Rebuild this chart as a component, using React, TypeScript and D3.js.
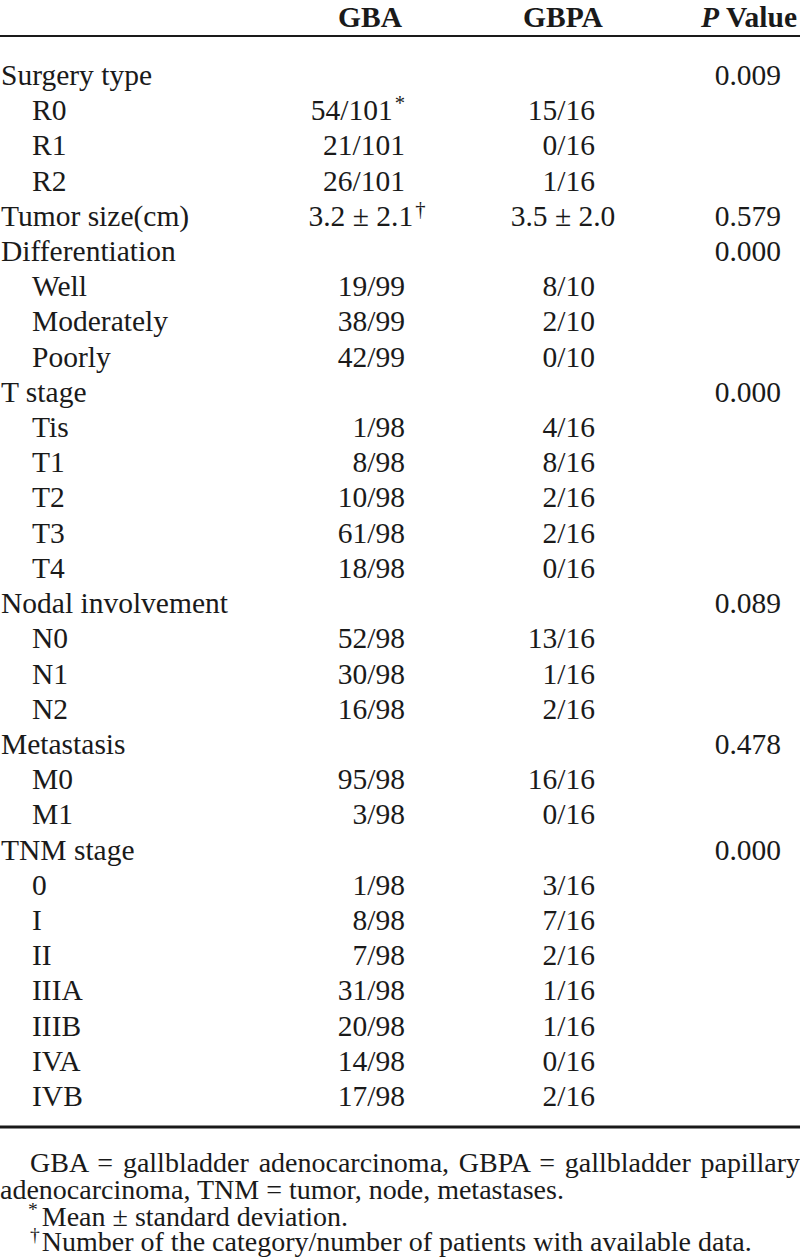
import React, { useEffect, useRef, useState } from 'react';
import * as d3 from 'd3';

const columnHeaders = ['GBA', 'GBPA', 'Value'];
const rowLabels = [
  'Surgery type', 'R0', 'R1', 'R2', 'Tumor size(cm)', 'Differentiation', 'Well', 'Moderately', 'Poorly',
  'T stage', 'Tis', 'T1', 'T2', 'T3', 'T4', 'Nodal involvement', 'N0', 'N1', 'N2', 'Metastasis', 'M0', 'M1',
  'TNM stage', '0', 'I', 'II', 'IIIA', 'IIIB', 'IVA', 'IVB',
];
const rowLevels = [0, 1, 1, 1, 0, 0, 1, 1, 1, 0, 1, 1, 1, 1, 1, 0, 1, 1, 1, 0, 1, 1, 0, 1, 1, 1, 1, 1, 1, 1];
const gbaValues = [
  '', '54/101', '21/101', '26/101', '3.2 ± 2.1', '', '19/99', '38/99', '42/99', '', '1/98', '8/98', '10/98',
  '61/98', '18/98', '', '52/98', '30/98', '16/98', '', '95/98', '3/98', '', '1/98', '8/98', '7/98', '31/98',
  '20/98', '14/98', '17/98',
];
const gbaMarks = ['', '*', '', '', '†', '', '', '', '', '', '', '', '', '', '', '', '', '', '', '', '', '', '', '', '', '', '', '', '', ''];
const gbpaValues = [
  '', '15/16', '0/16', '1/16', '3.5 ± 2.0', '', '8/10', '2/10', '0/10', '', '4/16', '8/16', '2/16', '2/16',
  '0/16', '', '13/16', '1/16', '2/16', '', '16/16', '0/16', '', '3/16', '7/16', '2/16', '1/16', '1/16', '0/16',
  '2/16',
];
const pValues = [
  '0.009', '', '', '', '0.579', '0.000', '', '', '', '0.000', '', '', '', '', '', '0.089', '', '', '', '0.478',
  '', '', '0.000', '', '', '', '', '', '', '',
];
const footnoteLine1 = 'GBA = gallbladder adenocarcinoma, GBPA = gallbladder papillary';
const footnoteLine2 = 'adenocarcinoma, TNM = tumor, node, metastases.';
const footnoteMarks = ['*', '†'];
const footnoteNotes = ['Mean ± standard deviation.', 'Number of the category/number of patients with available data.'];

const FONT = '"Liberation Serif", "Times New Roman", serif';
const FS = 29.5;
const FFS = 28;

export default function App() {
  const W = 800;
  const H = 1260;
  const line1Ref = useRef<SVGTextElement>(null);
  const [ws, setWs] = useState(0);

  const y = d3.scalePoint<number>().domain(d3.range(rowLabels.length)).range([85, 1106]);
  const labelX = d3.scaleOrdinal<number, number>().domain([0, 1]).range([1, 32]);
  const colRight = { gba: 405, gbpa: 595, p: 781 };
  const colCenter = { gba: 367, gbpa: 563 };

  const line1X = 30;
  const line1End = 800;

  useEffect(() => {
    const el = line1Ref.current;
    if (!el) return;
    const spaces = footnoteLine1.split(' ').length - 1;
    const natural = el.getComputedTextLength() - ws * spaces;
    const extra = (line1End - line1X - natural) / spaces;
    if (Math.abs(extra - ws) > 0.1) setWs(extra);
  }, [ws]);

  const cell = (v: string, mark: string, key: 'gba' | 'gbpa', i: number) => {
    if (!v) return null;
    const centered = v.includes('±');
    return (
      <text
        key={key + i}
        x={centered ? colCenter[key] : colRight[key]}
        y={y(i)}
        textAnchor={centered ? 'middle' : 'end'}
      >
        {v}
        {mark ? (
          <tspan fontSize={FS * 0.7} dy={-10} dx={2}>{mark}</tspan>
        ) : null}
      </text>
    );
  };

  return (
    <svg
      width={W}
      height={H}
      style={{ position: 'absolute', left: 0, top: 0, background: '#fff' }}
      fontFamily={FONT}
      fontSize={FS}
      fill="#1a1a1a"
    >
      <rect width={W} height={H} fill="#fff" />
      <g fontWeight="bold">
        <text x={370} y={27} textAnchor="middle">{columnHeaders[0]}</text>
        <text x={colCenter.gbpa} y={27} textAnchor="middle">{columnHeaders[1]}</text>
        <text x={797} y={27} textAnchor="end">
          <tspan fontStyle="italic">P</tspan> {columnHeaders[2]}
        </text>
      </g>
      <line x1={0} x2={W} y1={36} y2={36} stroke="#1a1a1a" strokeWidth={2} />
      {rowLabels.map((lab, i) => (
        <text key={'l' + i} x={labelX(rowLevels[i])} y={y(i)}>{lab}</text>
      ))}
      {gbaValues.map((v, i) => cell(v, gbaMarks[i], 'gba', i))}
      {gbpaValues.map((v, i) => cell(v, '', 'gbpa', i))}
      {pValues.map((v, i) =>
        v ? (
          <text key={'p' + i} x={colRight.p} y={y(i)} textAnchor="end">{v}</text>
        ) : null
      )}
      <line x1={0} x2={W} y1={1127} y2={1127} stroke="#1a1a1a" strokeWidth={3} />
      <g fontSize={FFS}>
        <text ref={line1Ref} x={line1X} y={1172} wordSpacing={ws}>{footnoteLine1}</text>
        <text x={0} y={1199}>{footnoteLine2}</text>
        {footnoteNotes.map((n, i) => (
          <text key={'fn' + i} x={i === 0 ? 28 : 30} y={1226 + i * 25}>
            <tspan fontSize={FFS * 0.7} dy={-10}>{footnoteMarks[i]}</tspan>
            <tspan dy={10} dx={i === 0 ? 4 : 2}>{n}</tspan>
          </text>
        ))}
      </g>
    </svg>
  );
}
